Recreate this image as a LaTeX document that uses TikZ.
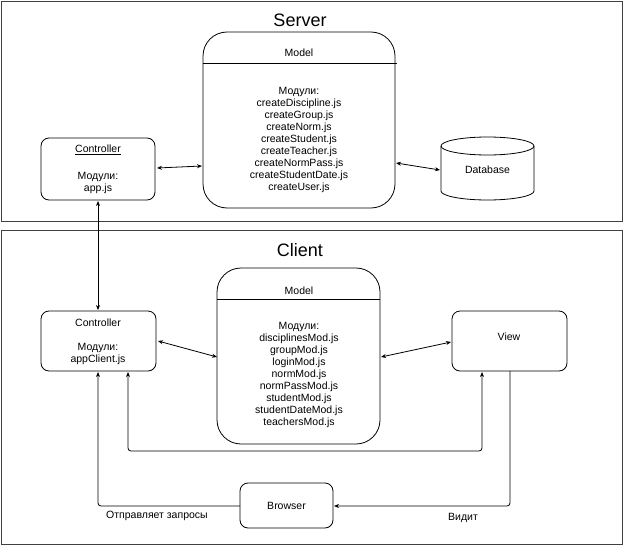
\documentclass[tikz,border=0pt]{standalone}
\usepackage{fontspec}
\setmainfont{Liberation Sans}
\usetikzlibrary{arrows.meta}
\begin{document}
\begin{tikzpicture}[x=1pt,y=-1pt,line width=0.8pt,
  box/.style={draw,rounded corners=8pt},
  bigbox/.style={draw,rounded corners=24pt},
  frame/.style={draw=black!75},
  lbl/.style={font=\fontsize{10.5}{12.1}\selectfont,align=center,inner sep=0},
  conn/.style={{Stealth[length=5pt,width=4pt]}-{Stealth[length=5pt,width=4pt]}},
  one/.style={-{Stealth[length=5pt,width=4pt]}}]
\useasboundingbox (0,0) rectangle (624,546);
\fill[white] (0,0) rectangle (624,546);
\draw[frame] (1,1) rectangle (622,221);
\draw[frame] (1,230) rectangle (622,544);
\node[font=\fontsize{18}{20}\selectfont] (st) at (300,20) {Server};
\node[font=\fontsize{18}{20}\selectfont] (ct) at (300,250) {Client};
% server model
\draw[bigbox] (203,32) rectangle (395,208);
\draw (203,63) -- (397,63);
\node[lbl] (smt) at (299,53) {Model};
\node[lbl] (smm) at (299,140) {Модули:\\createDiscipline.js\\createGroup.js\\createNorm.js\\createStudent.js\\createTeacher.js\\createNormPass.js\\createStudentDate.js\\createUser.js};
% server controller
\draw[box] (41,138) rectangle (155,200);
\node[lbl] (sct) at (98,150) {\underline{Controller}};
\node[lbl] (scm) at (98,183) {Модули:\\app.js};
% database
\draw (487.5,146) ellipse[x radius=46.5, y radius=9];
\draw (441,146) -- (441,191) arc[start angle=180,end angle=0,x radius=46.5,y radius=9] -- (534,146);
\node[lbl] (dbt) at (487.5,170) {Database};
\coordinate (a1) at (157,168); \coordinate (a2) at (202,166);
\draw[conn] (a1) -- (a2);
\coordinate (b1) at (396,163); \coordinate (b2) at (440,170);
\draw[conn] (b1) -- (b2);
\coordinate (v1) at (98,201); \coordinate (v2) at (98,310);
\draw[conn] (v1) -- (v2);
% client model
\draw[bigbox] (217,268) rectangle (380,444);
\draw (217,299) -- (380,299);
\node[lbl] (cmt) at (299,291) {Model};
\node[lbl] (cmm) at (299,375) {Модули:\\disciplinesMod.js\\groupMod.js\\loginMod.js\\normMod.js\\normPassMod.js\\studentMod.js\\studentDateMod.js\\teachersMod.js};
% client controller
\draw[box] (41,311) rectangle (156,371);
\node[lbl] (cct) at (98,323) {Controller};
\node[lbl] (ccm) at (98,354) {Модули:\\appClient.js};
% view
\draw[box] (452,311) rectangle (567,371);
\node[lbl] (vw) at (509,337) {View};
% browser
\draw[box] (240,483) rectangle (333,528);
\node[lbl] (br) at (286.5,506) {Browser};
\coordinate (c1) at (158,341); \coordinate (c2) at (217,357);
\draw[conn] (c1) -- (c2);
\coordinate (d1) at (381,357); \coordinate (d2) at (451,342);
\draw[conn] (d1) -- (d2);
\coordinate (e1) at (128,372); \coordinate (e2) at (482,372);
\draw[conn,rounded corners=3pt] (e1) -- (128,451) -- (482,451) -- (e2);
\coordinate (f1) at (240,506); \coordinate (f2) at (98,372);
\draw[one,rounded corners=3pt] (f1) -- (98,506) -- (f2);
\coordinate (g1) at (510,371); \coordinate (g2) at (334,506);
\draw[one,rounded corners=3pt] (g1) -- (510,506) -- (g2);
\node[lbl] (l1) at (157,516) {Отправляет запросы};
\node[lbl] (l2) at (463,518) {Видит};
\end{tikzpicture}
\end{document}
